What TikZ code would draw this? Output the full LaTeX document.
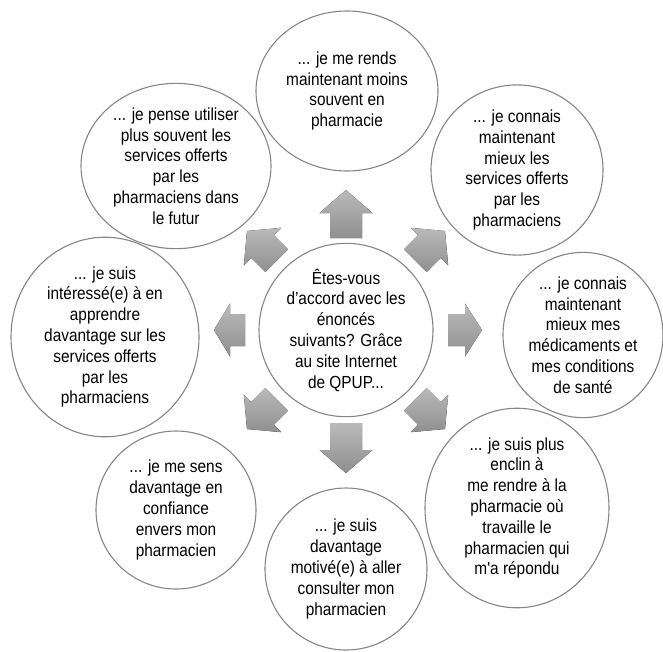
\documentclass[tikz,border=0pt]{standalone}
\usepackage{fontspec}
\setmainfont{Liberation Sans}[Ligatures=TeXOff,FakeStretch=0.88]
\usetikzlibrary{shapes.geometric}
\definecolor{rim}{HTML}{858585}
\definecolor{arrowtop}{HTML}{BABABA}
\definecolor{arrowbot}{HTML}{8F8F8F}

\begin{document}
\begin{tikzpicture}[x=1pt,y=-1pt]
  \tikzstyle{bubble}=[ellipse,draw=rim,line width=1.1pt,inner sep=0pt,align=center,font=\fontsize{17.5}{20.8}\selectfont]
  \tikzstyle{block}=[top color=arrowtop,bottom color=arrowbot,draw=none]
  \useasboundingbox (0,0) rectangle (663,651);
  % question in the middle
  \node[bubble,minimum width=174pt,minimum height=150pt] (q) at (346,330) {Êtes-vous\\d’accord avec les\\énoncés\\suivants? Grâce\\au site Internet\\de QPUP...};
  % answers around it
  \node[bubble,minimum width=182pt,minimum height=160pt] (a) at (347,91) {... je me rends\\maintenant moins\\souvent en\\pharmacie};
  \node[bubble,minimum width=172pt,minimum height=150pt] (b) at (517,170) {... je connais\\maintenant\\mieux les\\services offerts\\par les\\pharmaciens};
  \node[bubble,minimum width=160pt,minimum height=154pt] (c) at (583,335) {... je connais\\maintenant\\mieux mes\\médicaments et\\mes conditions\\de santé};
  \node[bubble,minimum width=184pt,minimum height=158pt] (d) at (517,508) {... je suis plus\\enclin à\\me rendre à la\\pharmacie où\\travaille le\\pharmacien qui\\m'a répondu};
  \node[bubble,minimum width=162pt,minimum height=162pt] (e) at (346,569) {... je suis\\davantage\\motivé(e) à aller\\consulter mon\\pharmacien};
  \node[bubble,minimum width=160pt,minimum height=158pt] (f) at (176,510) {... je me sens\\davantage en\\confiance\\envers mon\\pharmacien};
  \node[bubble,minimum width=188pt,minimum height=166pt] (g) at (105,337) {... je suis\\intéressé(e) à en\\apprendre\\davantage sur les\\services offerts\\par les\\pharmaciens};
  \node[bubble,minimum width=190pt,minimum height=154pt] (h) at (176,166) {... je pense utiliser\\plus souvent les\\services offerts\\par les\\pharmaciens dans\\le futur};
  % block arrows
  \foreach \ang/\bs/\tp/\hd in {90/92/140/23, 45/98/140/22, 0/102/136/17, -45/98/140/22, -90/93/143/23, -135/98/140/22, 180/101/132/16, 135/98/140/22}
    \fill[block,shift={(q.center)},rotate=\ang] (\bs,-16) -- (\tp-\hd,-16) -- (\tp-\hd,-26.5) -- (\tp,0) -- (\tp-\hd,26.5) -- (\tp-\hd,16) -- (\bs,16) -- cycle;
\end{tikzpicture}
\end{document}
